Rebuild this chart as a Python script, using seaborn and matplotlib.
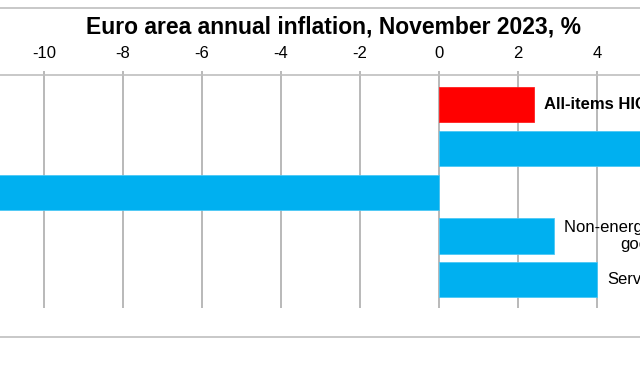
import numpy as np
import pandas as pd
import matplotlib
matplotlib.use("Agg")
import matplotlib.pyplot as plt
import seaborn as sns
from matplotlib.lines import Line2D

# data
categories = ["All-items HICP", "Food, alcohol & tobacco", "Energy",
              "Non-energy industrial\ngoods", "Services"]
values = [2.4, 6.9, -11.5, 2.9, 4.0]
bar_colors = ["#ff0000", "#00b0f0", "#00b0f0", "#00b0f0", "#00b0f0"]
label_bold = [True, False, False, False, False]
x_ticks = [-10, -8, -6, -4, -2, 0, 2, 4, 6, 8]

sns.set_theme(style="white")
plt.rcParams['font.family'] = ['Liberation Sans', 'DejaVu Sans']

W, H = 640, 366
fig = plt.figure(figsize=(W / 100, H / 100), dpi=100)

# axes placed so that 0 sits at px 439, 39.5 px per unit (chart is cropped on both sides)
x0_px, ppu = 439, 39.5
xmin, xmax = -12, 8
left_px = x0_px + xmin * ppu
right_px = x0_px + xmax * ppu
top_px, bot_px = 75, 308
ax = fig.add_axes([left_px / W, 1 - bot_px / H, (right_px - left_px) / W, (bot_px - top_px) / H])

df = pd.DataFrame({"cat": categories, "val": values})
sns.barplot(data=df, x="val", y="cat", hue="cat", palette=bar_colors, orient="h",
            width=0.8, saturation=1, legend=False, ax=ax,
            edgecolor="#4cc8f5", linewidth=0.6, zorder=2)
# keep the red bar edge red
ax.patches[0].set_edgecolor("#ff2020")

ax.set_xlim(xmin, xmax)
ax.set_ylim(4.64, -0.67)
ax.set_xticks(x_ticks)
ax.set_xticklabels([str(t) for t in x_ticks])
ax.xaxis.tick_top()
ax.tick_params(axis="x", top=True, bottom=False, direction="out", length=3,
               width=1.1, color="#a6a6a6", pad=7, labelsize=12, labelcolor="#000000")
ax.set_yticks([])
ax.set_xlabel("")
ax.set_ylabel("")
ax.grid(axis="x", color="#a6a6a6", linewidth=1.1, zorder=0)
ax.set_axisbelow(True)
for s in ["left", "right", "bottom"]:
    ax.spines[s].set_visible(False)
ax.spines["top"].set_color("#bfbfbf")
ax.spines["top"].set_linewidth(1.2)

# category labels next to the bar ends
for i, (c, v) in enumerate(zip(categories, values)):
    if v >= 0:
        ax.annotate(c, xy=(v, i), xytext=(7.5, 0), textcoords="offset points",
                    ha="left", va="center", multialignment="center", fontsize=12,
                    fontweight="bold" if label_bold[i] else "normal", color="#000000",
                    annotation_clip=False)
    else:
        ax.annotate(c, xy=(v, i), xytext=(-7.5, 0), textcoords="offset points",
                    ha="right", va="center", fontsize=12, color="#000000",
                    annotation_clip=False)

fig.text(334 / W, 1 - 27 / H, "Euro area annual inflation, November 2023, %",
         ha="center", va="center", fontsize=16.5, fontweight="bold", color="#000000")

# outer frame lines
fig.add_artist(Line2D([0, 1], [1 - 8 / H, 1 - 8 / H], color="#bfbfbf", linewidth=1.2,
                      transform=fig.transFigure))
fig.add_artist(Line2D([0, 1], [1 - 337 / H, 1 - 337 / H], color="#bfbfbf", linewidth=1.2,
                      transform=fig.transFigure))

fig.savefig("out.png", dpi=100)
